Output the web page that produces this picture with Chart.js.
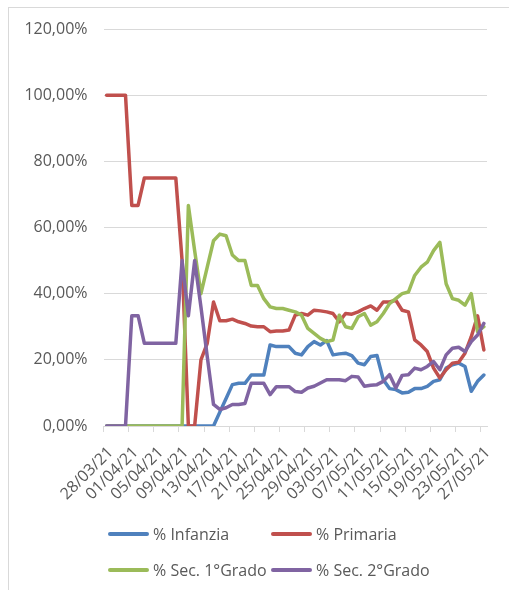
<!DOCTYPE html>
<html>
<head>
<meta charset="utf-8">
<script src="https://cdn.jsdelivr.net/npm/chart.js@4.4.1/dist/chart.umd.min.js"></script>
<style>
    html, body { margin: 0; padding: 0; background: #fff; overflow: hidden; }
    #wrap { position: relative; width: 509px; height: 590px; }
    #frame { position: absolute; left: 8px; top: 7px; width: 600px; height: 600px; border: 1px solid #d9d9d9; }
    canvas { position: absolute; left: 0; top: 0; }
    .leg { position: absolute; font-family: "Open Sans", sans-serif; font-size: 16px; color: #595959; line-height: 20px; white-space: nowrap; }
    .sw { position: absolute; width: 41px; height: 4px; border-radius: 2px; }
</style>
</head>
<body>
<div id="wrap">
    <div id="frame"></div>
    <canvas id="lineChart" width="509" height="590"></canvas>
    <div class="sw" style="left:108px; top:532px; background:#4f81bd"></div>
    <div class="leg" style="left:153px; top:524px">% Infanzia</div>
    <div class="sw" style="left:271px; top:532px; background:#c0504d"></div>
    <div class="leg" style="left:316px; top:524px">% Primaria</div>
    <div class="sw" style="left:108px; top:568px; background:#9bbb59"></div>
    <div class="leg" style="left:153px; top:560px">% Sec. 1°Grado</div>
    <div class="sw" style="left:271px; top:568px; background:#8064a2"></div>
    <div class="leg" style="left:316px; top:560px">% Sec. 2°Grado</div>
</div>
<script>
const dates = [
    '28/03/21', '29/03/21', '30/03/21', '31/03/21', '01/04/21', '02/04/21', '03/04/21', '04/04/21',
    '05/04/21', '06/04/21', '07/04/21', '08/04/21', '09/04/21', '10/04/21', '11/04/21', '12/04/21',
    '13/04/21', '14/04/21', '15/04/21', '16/04/21', '17/04/21', '18/04/21', '19/04/21', '20/04/21',
    '21/04/21', '22/04/21', '23/04/21', '24/04/21', '25/04/21', '26/04/21', '27/04/21', '28/04/21',
    '29/04/21', '30/04/21', '01/05/21', '02/05/21', '03/05/21', '04/05/21', '05/05/21', '06/05/21',
    '07/05/21', '08/05/21', '09/05/21', '10/05/21', '11/05/21', '12/05/21', '13/05/21', '14/05/21',
    '15/05/21', '16/05/21', '17/05/21', '18/05/21', '19/05/21', '20/05/21', '21/05/21', '22/05/21',
    '23/05/21', '24/05/21', '25/05/21', '26/05/21', '27/05/21'
];

const infanzia = [
    0, 0, 0, 0, 0, 0, 0, 0, 0, 0, 0, 0, 0, 0, 0, 0, 0, 0,
    4.2, 8.3, 12.5, 12.9, 12.9, 15.4, 15.4, 15.4, 24.5, 24, 24, 24, 22,
    21.5, 24, 25.5, 24.5, 25.8, 21.5, 21.8, 22, 21.3, 19, 18.5,
    21, 21.3, 14, 11.3, 11, 10, 10.2, 11.3, 11.3, 12,
    13.5, 14, 17.5, 18.5, 19, 18, 10.5, 13.5, 15.4
];

const primaria = [
    100, 100, 100, 100, 66.67, 66.67, 75, 75, 75, 75, 75, 75, 50, 0, 0, 20, 25, 37.5,
    31.8, 31.8, 32.3, 31.5, 31, 30.2, 30, 30, 28.5, 28.7, 28.7, 29, 33.5,
    34, 33.5, 35, 34.8, 34.5, 34, 31.5, 34, 33.8, 34.5, 35.5,
    36.3, 35, 37.5, 37.5, 38, 35, 34.5, 26, 24.5, 22.5,
    17.5, 14.5, 17, 19, 19.3, 22, 27, 33.3, 23
];

const sec1 = [
    0, 0, 0, 0, 0, 0, 0, 0, 0, 0, 0, 0, 0, 66.67, 53, 40, 48, 56,
    58, 57.5, 51.7, 50, 50, 42.5, 42.5, 38.5, 36, 35.5, 35.5, 35, 34.5,
    33.5, 29.5, 28, 26.5, 25.5, 26, 33.5, 30, 29.5, 33, 34,
    30.5, 31.5, 34, 37, 38.5, 40, 40.5, 45.5, 48, 49.5,
    53, 55.5, 43, 38.5, 38, 36.5, 40, 28.5, 30
];

const sec2 = [
    0, 0, 0, 0, 33.33, 33.33, 25, 25, 25, 25, 25, 25, 50, 33.33, 50, 36, 21, 6.5,
    5, 5.5, 6.5, 6.5, 6.8, 12.9, 12.9, 12.9, 9.5, 11.9, 11.9, 11.9, 10.4,
    10.2, 11.5, 12, 13, 14, 14, 14, 13.7, 15, 14.8, 12,
    12.3, 12.5, 13.5, 15.5, 11.5, 15.3, 15.5, 17.5, 17, 18,
    19.5, 17, 21.5, 23.5, 23.8, 22.5, 25.5, 27.5, 31
];

const yTicks = [0, 20, 40, 60, 80, 100, 120];

const textColor = '#595959';
const gridColor = '#d9d9d9';
const font = { family: '"Open Sans", sans-serif', size: 16 };

function series(label, data, color, order) {
    return {
        label: label,
        data: data,
        borderColor: color,
        backgroundColor: color,
        borderWidth: 3.5,
        borderJoinStyle: 'round',
        borderCapStyle: 'round',
        pointRadius: 0,
        tension: 0,
        fill: false,
        order: order
    };
}

const lineChartCtx = document.getElementById('lineChart').getContext('2d');
new Chart(lineChartCtx, {
    type: 'line',
    data: {
        labels: dates,
        datasets: [
            series('% Infanzia', infanzia, '#4f81bd', 4),
            series('% Primaria', primaria, '#c0504d', 3),
            series('% Sec. 1°Grado', sec1, '#9bbb59', 2),
            series('% Sec. 2°Grado', sec2, '#8064a2', 1)
        ]
    },
    options: {
        responsive: false,
        animation: false,
        devicePixelRatio: 1,
        layout: { padding: { top: 29, right: 22, bottom: 0, left: 0 } },
        plugins: {
            legend: { display: false },
            tooltip: { enabled: false }
        },
        scales: {
            x: {
                offset: true,
                afterFit: (scale) => { scale.height = 164; },
                grid: {
                    offset: true,
                    drawOnChartArea: false,
                    drawTicks: true,
                    tickLength: 6,
                    color: (ctx) => (ctx.index % 4 === 0 ? gridColor : 'rgba(0,0,0,0)')
                },
                border: { display: true, color: gridColor },
                ticks: {
                    autoSkip: false,
                    minRotation: 45,
                    maxRotation: 45,
                    padding: 11,
                    labelOffset: 4,
                    color: textColor,
                    font: font,
                    callback: function (value, index) {
                        return index % 4 === 0 ? dates[index] : '';
                    }
                }
            },
            y: {
                min: yTicks[0],
                max: yTicks[yTicks.length - 1],
                afterFit: (scale) => { scale.width = 103.5; },
                afterBuildTicks: (scale) => { scale.ticks = yTicks.map(v => ({ value: v })); },
                grid: { color: gridColor, drawTicks: false },
                border: { display: false },
                ticks: {
                    padding: 16,
                    color: textColor,
                    font: font,
                    callback: (v) => v.toFixed(2).replace('.', ',') + '%'
                }
            }
        }
    }
});
</script>
</body>
</html>
